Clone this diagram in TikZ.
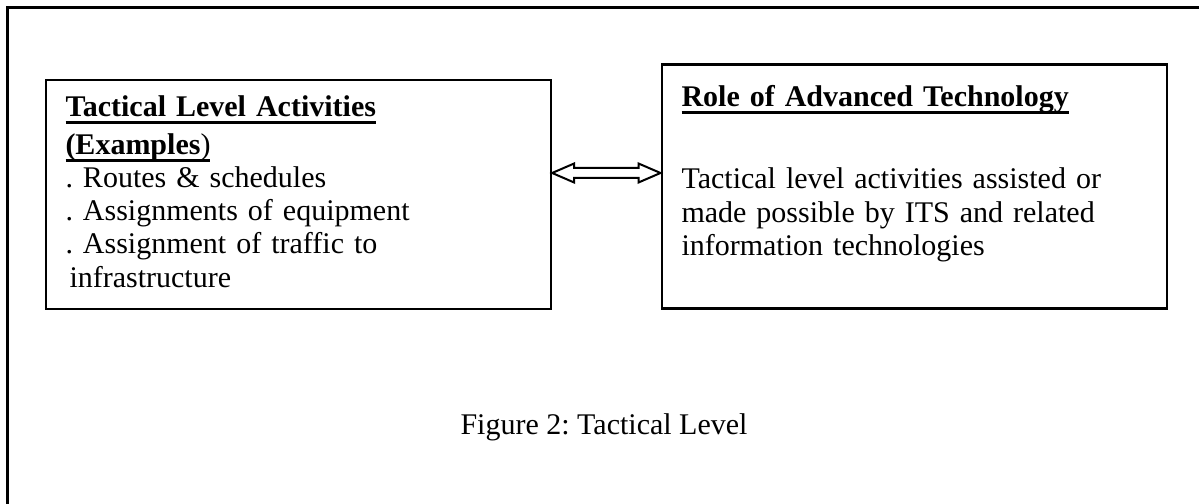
\documentclass[tikz,border=0pt]{standalone}
\usepackage{fontspec}
\setmainfont{Liberation Serif}
\usetikzlibrary{calc}
\frenchspacing
\newcommand{\myul}[1]{\leavevmode\setbox0\hbox{#1}\rlap{\rule[-3pt]{\wd0}{1.2pt}}\box0}
\tikzset{
  boxframe/.style={draw=black, line width=0.85pt, minimum width=0pt, inner sep=0pt},
  txt/.style={anchor=base west, inner sep=0pt, align=left, text width=#1,
    font=\fontsize{12pt}{13.3pt}\selectfont},
  capt/.style={anchor=base, inner sep=0pt, font=\fontsize{12pt}{13.3pt}\selectfont},
  dbl/.style={draw=black, line width=0.8pt, fill=white, line join=miter}
}
\begin{document}
\frenchspacing
\begin{tikzpicture}[x=0.4pt, y=-0.4pt]
\useasboundingbox (0,0) rectangle (1199,504);
\clip (0,0) rectangle (1199,504);
% outer frame (only top and left edges visible)
\draw[line width=1.2pt] (7.5,7.5) rectangle (1260,560);
% boxes
\node[boxframe, rectangle, minimum width=202pt, minimum height=91.6pt, anchor=north west] (lbox) at (45,79) {};
\node[boxframe, line width=1pt, rectangle, minimum width=202pt, minimum height=97.6pt, anchor=north west] (rbox) at (660.5,63.5) {};
% texts
\node[txt=190pt] (ltext) at (65,117) {\textbf{\myul{Tactical Level Activities}}\\[1.6pt]
\myul{\textbf{(Examples})}\\
. Routes \& schedules\\
. Assignments of equipment\\
. Assignment of traffic to\\
\hspace{1.6pt}infrastructure};
\node[txt=190pt] (rhead) at (681,107) {\textbf{\myul{Role of Advanced Technology}}};
\node[txt=195pt] (rbody) at (681,189) {Tactical level activities assisted or\\
made possible by ITS and related\\
information technologies};
\node[capt] (cap) at (604,435) {Figure 2: Tactical Level};
% double arrow connector
\path (lbox.north east) ++(0,94) coordinate (aL);
\path (rbox.north west) ++(0,109.5) coordinate (aR);
\draw[dbl] (aL) -- ($(aL)+(22,-9.5)$) -- ($(aL)+(22,-5)$) -- ($(aR)+(-22,-5)$)
  -- ($(aR)+(-22,-9.5)$) -- (aR) -- ($(aR)+(-22,9.5)$) -- ($(aR)+(-22,5)$)
  -- ($(aL)+(22,5)$) -- ($(aL)+(22,9.5)$) -- cycle;
\end{tikzpicture}
\end{document}
